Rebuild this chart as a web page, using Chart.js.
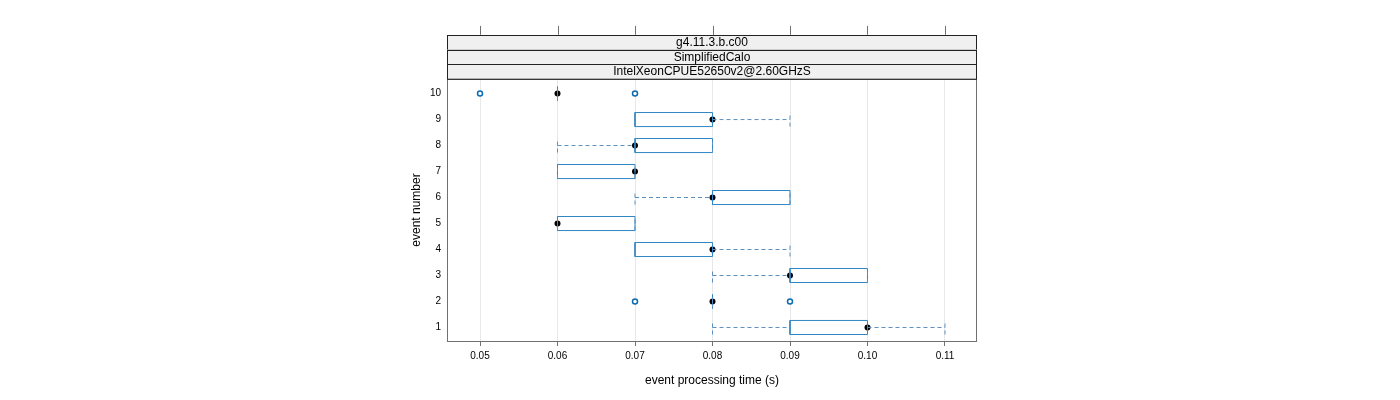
<!DOCTYPE html>
<html>
<head>
<meta charset="utf-8">
<script src="https://cdn.jsdelivr.net/npm/chart.js@4/dist/chart.umd.min.js"></script>
<style>
  html, body { margin: 0; padding: 0; background: #fff; }
  #wrap { width: 1400px; height: 400px; }
</style>
</head>
<body>
<div id="wrap"><canvas id="chart" width="1400" height="400"></canvas></div>
<script>
// Données (boxplot par événement)
const events      = [1, 2, 3, 4, 5, 6, 7, 8, 9, 10];
const whiskerLow  = [0.08, 0.08, 0.08, 0.07, 0.06, 0.07, 0.06, 0.06, 0.07, 0.06];
const boxLow      = [0.09, 0.08, 0.09, 0.07, 0.06, 0.08, 0.06, 0.07, 0.07, 0.06];
const medians     = [0.10, 0.08, 0.09, 0.08, 0.06, 0.08, 0.07, 0.07, 0.08, 0.06];
const boxHigh     = [0.10, 0.08, 0.10, 0.08, 0.07, 0.09, 0.07, 0.08, 0.08, 0.06];
const whiskerHigh = [0.11, 0.08, 0.10, 0.09, 0.07, 0.09, 0.07, 0.08, 0.09, 0.06];

const outlierEvent = [2, 2, 10, 10];
const outlierTime  = [0.07, 0.09, 0.05, 0.07];

const xTicks = [0.05, 0.06, 0.07, 0.08, 0.09, 0.10, 0.11];
const yTicks = events;

const strips = ['g4.11.3.b.c00', 'SimplifiedCalo', 'IntelXeonCPUE52650v2@2.60GHzS'];

// Couleurs
const colors = {
    box: '#2f86c4',
    umbrella: '#5b8fc0',
    outlier: '#0a6db3',
    grid: '#e8e8e8',
    axis: '#707070',
    stripBg: '#f0f0f0',
    stripBorder: '#222222'
};

const FONT = "'Liberation Sans', Arial, sans-serif";
const HALF = 0.27; // demi-hauteur des boîtes (unités y)
const GAP = { x: null, y: null };

// Construction des tracés
const boxPts = [];
const whiskerPts = [];
events.forEach((e, i) => {
    const lo = boxLow[i], hi = boxHigh[i];
    boxPts.push({ x: lo, y: e - HALF }, { x: hi, y: e - HALF }, { x: hi, y: e + HALF },
                { x: lo, y: e + HALF }, { x: lo, y: e - HALF }, GAP);
    const wl = whiskerLow[i], wh = whiskerHigh[i];
    if (wl < lo) whiskerPts.push({ x: wl, y: e }, { x: lo, y: e }, GAP);
    if (wh > hi) whiskerPts.push({ x: hi, y: e }, { x: wh, y: e }, GAP);
    whiskerPts.push({ x: wl, y: e - HALF }, { x: wl, y: e + HALF }, GAP);
    whiskerPts.push({ x: wh, y: e - HALF }, { x: wh, y: e + HALF }, GAP);
});
const medianPts = events.map((e, i) => ({ x: medians[i], y: e }));
const outlierPts = outlierEvent.map((e, i) => ({ x: outlierTime[i], y: e }));

// Bandeaux + ticks du haut + cadre du panneau
const panelPlugin = {
    id: 'panel',
    afterDraw(chart) {
        const { ctx, chartArea: a, scales } = chart;
        const h = 14.7;
        ctx.save();
        ctx.strokeStyle = colors.axis;
        ctx.lineWidth = 1;
        ctx.strokeRect(a.left + 0.5, a.top + 0.5, a.right - a.left - 1, a.bottom - a.top);
        const top = a.top - h * strips.length;
        // ticks du haut
        xTicks.forEach(v => {
            const px = Math.round(scales.x.getPixelForValue(v)) + 0.5;
            ctx.beginPath();
            ctx.moveTo(px, top);
            ctx.lineTo(px, top - 9);
            ctx.stroke();
        });
        ctx.font = '12px ' + FONT;
        ctx.textAlign = 'center';
        ctx.textBaseline = 'middle';
        strips.forEach((s, i) => {
            const y = top + i * h;
            ctx.fillStyle = colors.stripBg;
            ctx.fillRect(a.left, y, a.right - a.left, h);
            ctx.strokeStyle = colors.stripBorder;
            ctx.strokeRect(a.left + 0.5, Math.round(y) + 0.5, a.right - a.left - 1, h);
            ctx.fillStyle = '#000';
            ctx.fillText(s, (a.left + a.right) / 2, y + h / 2 + 0.5);
        });
        ctx.restore();
    }
};

const ctx = document.getElementById('chart').getContext('2d');
new Chart(ctx, {
    type: 'scatter',
    data: {
        datasets: [
            {
                label: 'whiskers',
                data: whiskerPts,
                showLine: true,
                spanGaps: false,
                borderColor: colors.umbrella,
                borderWidth: 1,
                borderDash: [4, 3],
                pointRadius: 0
            },
            {
                label: 'boxes',
                data: boxPts,
                showLine: true,
                spanGaps: false,
                borderColor: colors.box,
                borderWidth: 1,
                pointRadius: 0
            },
            {
                label: 'outliers',
                data: outlierPts,
                pointRadius: 2.5,
                pointBorderWidth: 1.5,
                pointBorderColor: colors.outlier,
                pointBackgroundColor: '#ffffff'
            },
            {
                label: 'median',
                data: medianPts,
                pointRadius: 3,
                pointBorderWidth: 0,
                pointBackgroundColor: '#000000'
            }
        ]
    },
    options: {
        responsive: false,
        animation: false,
        events: [],
        layout: { padding: { left: 405, right: 423, top: 79, bottom: 9 } },
        plugins: {
            legend: { display: false },
            tooltip: { enabled: false }
        },
        scales: {
            x: {
                type: 'linear',
                min: 0.04574,
                max: 0.11413,
                afterBuildTicks: s => { s.ticks = xTicks.map(v => ({ value: v })); },
                afterFit: s => { s.height = 50; },
                border: { display: false },
                grid: {
                    color: colors.grid,
                    tickColor: colors.axis,
                    tickLength: 5,
                    lineWidth: 1
                },
                ticks: {
                    color: '#000',
                    font: { family: FONT, size: 10 },
                    padding: 4,
                    maxRotation: 0,
                    callback: v => v.toFixed(2)
                },
                title: {
                    display: true,
                    text: 'event processing time (s)',
                    color: '#000',
                    font: { family: FONT, size: 12 },
                    padding: { top: 4, bottom: 3 }
                }
            },
            y: {
                type: 'linear',
                min: 0.48,
                max: 10.56,
                afterBuildTicks: s => { s.ticks = yTicks.map(v => ({ value: v })); },
                afterFit: s => { s.width = 42; },
                border: { display: false },
                grid: { display: false, drawTicks: false },
                ticks: {
                    color: '#000',
                    font: { family: FONT, size: 10 },
                    padding: 6
                },
                title: {
                    display: true,
                    text: 'event number',
                    color: '#000',
                    font: { family: FONT, size: 12 },
                    padding: { top: 4, bottom: 4 }
                }
            }
        }
    },
    plugins: [panelPlugin]
});
</script>
</body>
</html>
